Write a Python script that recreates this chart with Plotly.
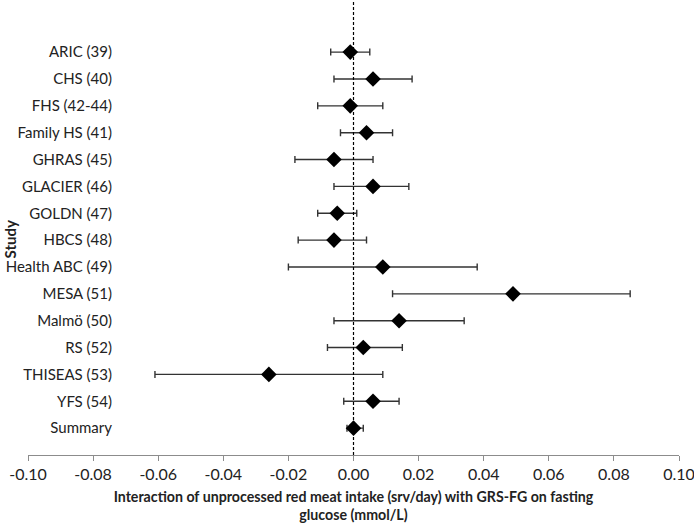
import plotly.graph_objects as go

studies = ["ARIC (39)", "CHS (40)", "FHS (42-44)", "Family HS (41)", "GHRAS (45)",
           "GLACIER (46)", "GOLDN (47)", "HBCS (48)", "Health ABC (49)", "MESA (51)",
           "Malmö (50)", "RS (52)", "THISEAS (53)", "YFS (54)", "Summary"]
estimate = [-0.001, 0.006, -0.001, 0.004, -0.006, 0.006, -0.005, -0.006, 0.009, 0.049,
            0.014, 0.003, -0.026, 0.006, 0.000]
lower = [-0.007, -0.006, -0.011, -0.004, -0.018, -0.006, -0.011, -0.017, -0.020, 0.012,
         -0.006, -0.008, -0.061, -0.003, -0.002]
upper = [0.005, 0.018, 0.009, 0.012, 0.006, 0.017, 0.001, 0.004, 0.038, 0.085,
         0.034, 0.015, 0.009, 0.014, 0.003]
x_ticks = [-0.10, -0.08, -0.06, -0.04, -0.02, 0.00, 0.02, 0.04, 0.06, 0.08, 0.10]

FONT = "Lato"
TXT = "#222222"
n = len(studies)
ypos = [n - 1 - i for i in range(n)]

fig = go.Figure()
fig.add_trace(go.Scatter(
    x=estimate, y=ypos, mode="markers",
    marker=dict(symbol="diamond", size=12, color="black"),
    error_x=dict(type="data", symmetric=False,
                 array=[u - e for u, e in zip(upper, estimate)],
                 arrayminus=[e - l for e, l in zip(estimate, lower)],
                 color="#333333", thickness=1.4, width=3.5),
    showlegend=False, hoverinfo="skip",
))

fig.add_shape(type="line", xref="x", yref="paper", x0=0, x1=0, y0=0, y1=1,
              line=dict(color="black", width=1.2, dash="3px,2px"))

fig.update_layout(
    width=694, height=527,
    margin=dict(l=28, r=15, t=0, b=72),
    paper_bgcolor="white", plot_bgcolor="white",
    font=dict(family=FONT, size=14, color=TXT),
    xaxis=dict(range=[-0.1, 0.1], tickvals=x_ticks,
               ticktext=[f"{v:.2f}" for v in x_ticks],
               showline=True, linecolor="#8c8c8c", linewidth=1,
               ticks="outside", ticklen=5, tickcolor="#8c8c8c",
               showgrid=False, zeroline=False, ticklabeloverflow="allow",
               tickfont=dict(family=FONT, size=16, color=TXT),
               title=dict(text="<b>Interaction of unprocessed red meat intake (srv/day) with GRS-FG on fasting<br>glucose (mmol/L)</b>",
                          font=dict(family=FONT, size=14.2, color=TXT), standoff=9)),
    yaxis=dict(range=[-1, 15.94], tickvals=ypos, ticktext=studies,
               anchor="free", position=(112 - 28) / 651, side="left",
               showline=False, showgrid=False, zeroline=False, ticks="",
               tickfont=dict(family=FONT, size=15, color=TXT)),
    annotations=[dict(text="<b>Study</b>", xref="paper", yref="paper",
                      x=(9.5 - 28) / 651, y=(455 - 240) / 455, xanchor="center", yanchor="middle",
                      textangle=-90, showarrow=False,
                      font=dict(family=FONT, size=15, color=TXT))],
)

fig.write_html("out.html", config={"displayModeBar": False},
               post_script="document.body.style.margin='0px';")
